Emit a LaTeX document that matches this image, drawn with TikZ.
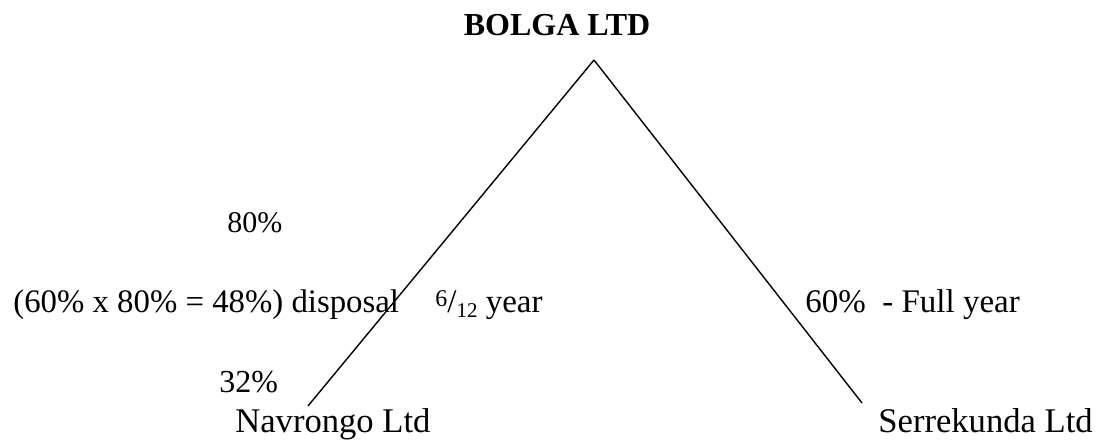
\documentclass[tikz,border=0pt]{standalone}
\usepackage{fontspec}
\setmainfont{Liberation Serif}
\usepackage{tikz}

\begin{document}
\begin{tikzpicture}[x=0.5pt, y=-0.5pt,
  lab/.style={font=\fontsize{16.5}{19}\selectfont, inner sep=0, anchor=base west},
  tlab/.style={lab, font=\fontsize{15}{18}\selectfont},
  nlab/.style={lab, font=\fontsize{17.3}{20}\selectfont},
  head/.style={font=\fontsize{16}{19}\selectfont\bfseries, inner sep=0, anchor=base},
  leg/.style={line width=0.7pt}
]
\useasboundingbox (0,0) rectangle (1102,442);
\node[head] (bolga) at (557,36) {BOLGA LTD};
\coordinate (apex) at (594,60);
\coordinate (navtop) at (308,406);
\coordinate (sertop) at (862,403);
\draw[leg] (apex) -- (navtop);
\draw[leg] (apex) -- (sertop);
\node[tlab] (eighty) at (227,233) {80\%};
\node[lab, font=\fontsize{16.4}{19}\selectfont] (disp) at (13,313) {(60\% x 80\% = 48\%) disposal};
\node[lab] (half) at (435,313) {{\fontsize{12}{14}\selectfont\raisebox{0.6ex}{6}}/{\fontsize{10.5}{13}\selectfont\raisebox{-0.5ex}{12}} year};
\node[lab] (full) at (805,313) {60\%\ \ - Full year};
\node[lab, font=\fontsize{16}{19}\selectfont] (thirty) at (219,393) {32\%};
\node[nlab] (nav) at (235,433) {Navrongo Ltd};
\node[nlab] (ser) at (878,433) {Serrekunda Ltd};
\end{tikzpicture}
\end{document}
